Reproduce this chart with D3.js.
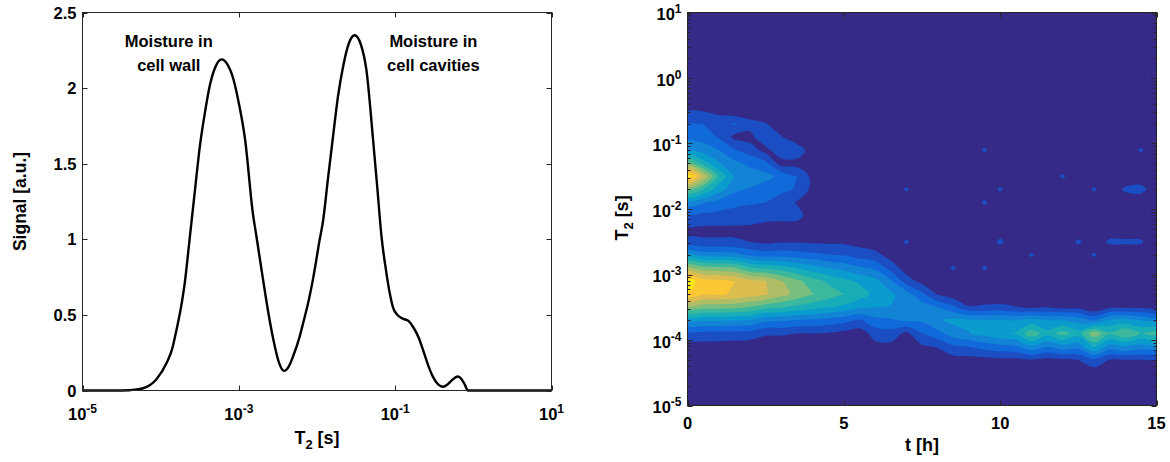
<!DOCTYPE html>
<html>
<head>
<meta charset="utf-8">
<script src="https://cdn.jsdelivr.net/npm/d3@7"></script>
<style>
  html, body { margin: 0; padding: 0; background: #ffffff; }
  svg { display: block; font-family: "Liberation Sans", Arial, Helvetica, sans-serif; font-weight: bold; }
</style>
</head>
<body>
<svg id="fig" width="1170" height="462"></svg>
<script>
// ---------- T2 distribution (left panel) ----------
const spectrumLogT2 = [-5.0, -4.6, -4.4, -4.3, -4.225, -4.14, -4.054, -3.926, -3.85, -3.798, -3.74, -3.692,
  -3.63, -3.56, -3.50, -3.43, -3.37, -3.30, -3.22, -3.15, -3.07, -3.0, -2.92, -2.82, -2.775, -2.71, -2.65,
  -2.56, -2.49, -2.42, -2.36, -2.307, -2.22, -2.18, -2.10, -2.05, -1.965, -1.923, -1.86, -1.795, -1.73,
  -1.667, -1.59, -1.518, -1.44, -1.368, -1.283, -1.23, -1.177, -1.113, -1.06, -1.028, -0.97, -0.90, -0.83,
  -0.77, -0.70, -0.645, -0.58, -0.516, -0.45, -0.39, -0.33, -0.28, -0.2, -0.15, -0.11, -0.07, 0.5, 1.0];
const spectrumSignal = [0, 0, 0.002, 0.008, 0.015, 0.035, 0.075, 0.18, 0.28, 0.40, 0.55, 0.71,
  1.0, 1.33, 1.61, 1.85, 2.02, 2.14, 2.19, 2.16, 2.06, 1.90, 1.66, 1.17, 1.02, 0.80, 0.60,
  0.34, 0.19, 0.13, 0.16, 0.225, 0.36, 0.44, 0.61, 0.74, 1.0, 1.12, 1.40, 1.68, 1.95,
  2.14, 2.30, 2.35, 2.29, 2.12, 1.66, 1.35, 1.03, 0.78, 0.62, 0.55, 0.50, 0.475, 0.46,
  0.42, 0.35, 0.27, 0.17, 0.09, 0.04, 0.025, 0.04, 0.065, 0.093, 0.075, 0.04, 0.0, 0, 0];
const spectrumXTicks = [1e-5, 1e-3, 1e-1, 1e1];
const spectrumYTicks = [0, 0.5, 1, 1.5, 2, 2.5];
const wallNote = ["Moisture in", "cell wall"];
const cavityNote = ["Moisture in", "cell cavities"];

// ---------- T2 map over drying time (right panel) ----------
const mapTimes = [0, 0.5, 1, 1.5, 2, 2.5, 3, 3.5, 4, 4.5, 5, 5.5, 6, 6.5, 7, 7.5, 8, 8.5, 9, 9.5,
  10, 10.5, 11, 11.5, 12, 12.5, 13, 13.5, 14, 14.5, 15];
const mapLogT2 = [-0.5, -0.7, -0.9, -1.1, -1.3, -1.5, -1.7, -1.9, -2.1, -2.3,
  -2.5, -2.7, -2.9, -3.1, -3.3, -3.5, -3.7, -3.9, -4.1, -4.3, -4.5];
// one T2 profile per time step, ordered as mapLogT2
const mapProfiles = [
  [0.19,0.41,0.54,0.75,1.50,2.30,1.50,0.72,0.37,0.16, 0.23,0.79,1.66,2.31,2.19,1.55,0.83,0.33,0.10,0.02,0],
  [0.19,0.40,0.52,0.70,1.10,1.80,1.20,0.62,0.35,0.16, 0.22,0.71,1.49,2.10,2.03,1.48,0.82,0.34,0.11,0.02,0],
  [0.12,0.36,0.38,0.60,0.82,1.15,0.90,0.52,0.34,0.16, 0.22,0.70,1.46,2.06,2.02,1.48,0.82,0.33,0.11,0.02,0],
  [0.05,0.42,0.15,0.42,0.65,0.80,0.65,0.45,0.32,0.16, 0.22,0.68,1.42,2.00,1.98,1.45,0.80,0.32,0.10,0.02,0],
  [0,0.30,0.12,0.30,0.55,0.70,0.58,0.42,0.30,0.16, 0.20,0.55,1.22,1.86,1.90,1.39,0.77,0.31,0.09,0.02,0],
  [0,0.22,0.40,0.12,0.45,0.66,0.50,0.40,0.28,0.12, 0.15,0.50,1.16,1.80,1.82,1.27,0.64,0.23,0.06,0.01,0],
  [0,0,0.22,0.38,0.10,0.55,0.45,0.30,0.28,0.10, 0.18,0.52,1.10,1.61,1.67,1.22,0.63,0.23,0.05,0.01,0],
  [0,0,0.02,0.36,0.12,0.40,0.38,0.18,0.28,0.08, 0.18,0.49,0.99,1.45,1.54,1.14,0.58,0.20,0.04,0,0],
  [0,0,0,0.05,0.08,0.14,0.14,0.05,0.08,0, 0.17,0.45,0.88,1.29,1.41,1.08,0.56,0.20,0.04,0,0],
  [0,0,0,0,0,0,0,0,0,0, 0.16,0.41,0.79,1.16,1.30,1.01,0.52,0.18,0.03,0,0],
  [0,0,0,0,0,0,0,0,0,0, 0.16,0.38,0.72,1.06,1.20,0.95,0.47,0.14,0.02,0,0],
  [0,0,0,0,0,0,0,0,0,0, 0.12,0.31,0.63,0.96,1.10,0.84,0.37,0.09,0.01,0,0],
  [0,0,0,0,0,0,0,0,0,0, 0.08,0.26,0.56,0.86,0.94,0.80,0.54,0.29,0.13,0.03,0],
  [0,0,0,0,0,0,0,0,0,0, 0.02,0.11,0.32,0.63,0.84,0.79,0.57,0.32,0.14,0.04,0],
  [0,0,0,0,0,0,0.24,0,0,0, 0.24,0.01,0.10,0.30,0.69,0.79,0.63,0.15,0.08,0.03,0],
  [0,0,0,0,0,0,0,0,0,0, 0,0,0.01,0.13,0.45,0.72,0.63,0.39,0.17,0.05,0],
  [0,0,0,0,0,0,0,0,0,0, 0,0,0,0.02,0.18,0.60,0.77,0.53,0.22,0.06,0.01],
  [0,0,0,0,0,0,0,0,0,0, 0,0,0.24,0,0.08,0.45,0.85,0.70,0.37,0.12,0.02],
  [0,0,0,0,0,0,0,0,0,0, 0,0,0,0,0.01,0.22,0.84,0.79,0.41,0.12,0.02],
  [0,0,0,0.24,0,0,0,0.24,0,0, 0,0,0.24,0,0.02,0.24,0.82,0.88,0.48,0.14,0.02],
  [0,0,0,0,0,0,0.24,0,0,0, 0.26,0,0,0,0.03,0.26,0.83,0.95,0.54,0.16,0.03],
  [0,0,0,0,0,0,0,0,0,0, 0,0,0,0,0.02,0.21,0.79,1.02,0.57,0.16,0.02],
  [0,0,0,0,0,0,0,0,0,0, 0,0.24,0,0,0.01,0.16,0.88,1.33,0.77,0.20,0.02],
  [0,0,0,0,0,0,0,0,0,0, 0,0,0,0,0.02,0.20,0.79,1.08,0.61,0.15,0.02],
  [0,0,0,0,0,0.24,0,0,0,0, 0,0,0,0,0.01,0.14,0.81,1.29,0.72,0.17,0.01],
  [0,0,0,0,0,0,0,0,0,0, 0.25,0,0,0,0.01,0.15,0.72,1.09,0.68,0.20,0.02],
  [0,0,0,0,0,0,0.24,0,0,0, 0,0.24,0,0,0,0.02,0.58,1.54,1.04,0.37,0.07],
  [0,0,0,0,0,0,0,0,0,0, 0.25,0,0,0,0.01,0.16,0.83,1.23,0.72,0.20,0.02],
  [0,0,0,0,0,0,0.25,0,0,0, 0.25,0,0,0,0,0.16,0.88,1.39,0.80,0.20,0.02],
  [0,0,0,0.24,0,0,0.30,0,0,0, 0.24,0,0,0,0,0.16,0.79,1.19,0.72,0.20,0.02],
  [0,0,0,0,0,0,0,0,0,0, 0,0,0,0,0,0.06,0.68,1.29,0.72,0.17,0.01]
];
const mapLevels = [0.2, 0.4, 0.6, 0.8, 1.0, 1.2, 1.4, 1.6, 1.8, 2.0, 2.2];
const mapXTicks = [0, 5, 10, 15];
const mapYTicks = [1e-5, 1e-4, 1e-3, 1e-2, 1e-1, 1e0, 1e1];

// parula colour map anchors
const parula = ["#352a87", "#0f5cdd", "#1481d6", "#06a4ca", "#2eb7a4", "#87bf77", "#d1bb59", "#fec832", "#f9fb0e"];

const svg = d3.select("#fig");
const AXIS = "#262626";
const TICK_FS = 16.5, LABEL_FS = 18;

function expText(sel, v) {
  const e = Math.round(Math.log10(v));
  sel.append("tspan").text("10");
  sel.append("tspan").attr("dy", -7).attr("font-size", 12).text(String(e));
}

// ================= left panel =================
const L = { x0: 82.5, x1: 551.5, y0: 12.5, y1: 390.5 };
const xL = d3.scaleLog().domain([1e-5, 10]).range([L.x0, L.x1]);
const yL = d3.scaleLinear().domain([0, 2.5]).range([L.y1, L.y0]);
const gL = svg.append("g");

const spectrum = spectrumLogT2.map((lg, i) => [Math.pow(10, lg), spectrumSignal[i]]);
gL.append("path")
  .datum(spectrum)
  .attr("d", d3.line().x(d => xL(d[0])).y(d => yL(d[1])).curve(d3.curveMonotoneX))
  .attr("fill", "none").attr("stroke", "#000").attr("stroke-width", 2.4)
  .attr("stroke-linejoin", "round");

gL.append("rect").attr("x", L.x0).attr("y", L.y0).attr("width", L.x1 - L.x0).attr("height", L.y1 - L.y0)
  .attr("fill", "none").attr("stroke", AXIS).attr("stroke-width", 1);

spectrumXTicks.forEach(v => {
  const x = Math.round(xL(v)) + 0.5;
  gL.append("line").attr("x1", x).attr("x2", x).attr("y1", L.y1).attr("y2", L.y1 - 5).attr("stroke", AXIS);
  gL.append("line").attr("x1", x).attr("x2", x).attr("y1", L.y0).attr("y2", L.y0 + 5).attr("stroke", AXIS);
  const t = gL.append("text").attr("x", xL(v)).attr("y", 420).attr("text-anchor", "middle")
    .attr("font-size", TICK_FS).attr("fill", "#000");
  expText(t, v);
});
spectrumYTicks.forEach(v => {
  const y = Math.round(yL(v)) + 0.5;
  gL.append("line").attr("x1", L.x0).attr("x2", L.x0 + 5).attr("y1", y).attr("y2", y).attr("stroke", AXIS);
  gL.append("line").attr("x1", L.x1).attr("x2", L.x1 - 5).attr("y1", y).attr("y2", y).attr("stroke", AXIS);
  gL.append("text").attr("x", L.x0 - 6).attr("y", yL(v) + 6).attr("text-anchor", "end")
    .attr("font-size", TICK_FS).attr("fill", "#000").text(String(v));
});

// axis titles
const xtL = gL.append("text").attr("x", (L.x0 + L.x1) / 2).attr("y", 443.5)
  .attr("text-anchor", "middle").attr("font-size", LABEL_FS).attr("fill", "#000");
xtL.append("tspan").text("T");
xtL.append("tspan").attr("font-size", 13).attr("dy", 5).text("2");
xtL.append("tspan").attr("dy", -5).text(" [s]");
gL.append("text").attr("transform", `translate(26,${(L.y0 + L.y1) / 2}) rotate(-90)`)
  .attr("text-anchor", "middle").attr("font-size", 17.5).attr("fill", "#000").text("Signal [a.u.]");

// peak annotations
function note(lines, lg, s) {
  const t = gL.append("text").attr("text-anchor", "middle").attr("font-size", TICK_FS).attr("fill", "#000");
  lines.forEach((ln, i) => t.append("tspan").attr("x", xL(Math.pow(10, lg))).attr("y", yL(s) + i * 24).text(ln));
}
note(wallNote, -3.896, 2.273);
note(cavityNote, -0.511, 2.273);

// ================= right panel =================
const R = { x0: 687.5, x1: 1156.5, y0: 12.5, y1: 405.5 };
const xR = d3.scaleLinear().domain([0, 15]).range([R.x0, R.x1]);
const yR = d3.scaleLog().domain([1e-5, 10]).range([R.y1, R.y0]);
const gR = svg.append("g");

svg.append("defs").append("clipPath").attr("id", "mapClip")
  .append("rect").attr("x", R.x0).attr("y", R.y0).attr("width", R.x1 - R.x0).attr("height", R.y1 - R.y0);

const nx = mapTimes.length, ny = mapLogT2.length;
const grid = new Array(nx * ny);
mapProfiles.forEach((col, i) => col.forEach((v, j) => { grid[j * nx + i] = v; }));

// grid sample (i, j) sits at (i + 0.5, j + 0.5) in contour space
const tOf = d3.scaleLinear().domain([0.5, nx - 0.5]).range([mapTimes[0], mapTimes[nx - 1]]);
const lgOf = d3.scaleLinear().domain([0.5, ny - 0.5]).range([mapLogT2[0], mapLogT2[ny - 1]]);
const toScreen = ([gx, gy]) => [xR(tOf(gx)), yR(Math.pow(10, lgOf(gy)))];
const ringLine = d3.line().curve(d3.curveCatmullRomClosed.alpha(0.5));
function bandPath(mp) {
  return mp.coordinates.map(poly => poly
    .filter(ring => ring.length > 3)
    .map(ring => ringLine(ring.slice(0, -1).map(toScreen)))
    .join("")).join("");
}
const vmax = d3.max(grid);
const color = d3.scaleSequential(d3.piecewise(d3.interpolateRgb, parula)).domain([0, vmax]);

const gMap = gR.append("g").attr("clip-path", "url(#mapClip)");
gMap.append("rect").attr("x", R.x0).attr("y", R.y0).attr("width", R.x1 - R.x0).attr("height", R.y1 - R.y0)
  .attr("fill", color(0));
const bands = d3.contours().size([nx, ny]).thresholds(mapLevels)(grid);
gMap.selectAll("path.band").data(bands).join("path").attr("class", "band")
  .attr("d", bandPath).attr("fill", d => color(d.value)).attr("fill-rule", "evenodd");

gR.append("rect").attr("x", R.x0).attr("y", R.y0).attr("width", R.x1 - R.x0).attr("height", R.y1 - R.y0)
  .attr("fill", "none").attr("stroke", AXIS).attr("stroke-width", 1);

mapXTicks.forEach(v => {
  const x = Math.round(xR(v)) + 0.5;
  gR.append("line").attr("x1", x).attr("x2", x).attr("y1", R.y1).attr("y2", R.y1 - 5).attr("stroke", AXIS);
  gR.append("line").attr("x1", x).attr("x2", x).attr("y1", R.y0).attr("y2", R.y0 + 5).attr("stroke", AXIS);
  gR.append("text").attr("x", xR(v)).attr("y", 429).attr("text-anchor", "middle")
    .attr("font-size", TICK_FS).attr("fill", "#000").text(String(v));
});
mapYTicks.forEach((v, k) => {
  const y = Math.round(yR(v)) + 0.5;
  gR.append("line").attr("x1", R.x0).attr("x2", R.x0 + 5).attr("y1", y).attr("y2", y).attr("stroke", AXIS);
  gR.append("line").attr("x1", R.x1).attr("x2", R.x1 - 5).attr("y1", y).attr("y2", y).attr("stroke", AXIS);
  const t = gR.append("text").attr("x", R.x0 - 6).attr("y", yR(v) + 7.5).attr("text-anchor", "end")
    .attr("font-size", TICK_FS).attr("fill", "#000");
  expText(t, v);
  if (k < mapYTicks.length - 1) {
    for (let m = 2; m <= 9; m++) {
      const ym = Math.round(yR(v * m)) + 0.5;
      gR.append("line").attr("x1", R.x0).attr("x2", R.x0 + 3).attr("y1", ym).attr("y2", ym).attr("stroke", AXIS);
      gR.append("line").attr("x1", R.x1).attr("x2", R.x1 - 3).attr("y1", ym).attr("y2", ym).attr("stroke", AXIS);
    }
  }
});

const ytR = gR.append("text").attr("transform", "translate(628,218) rotate(-90)")
  .attr("text-anchor", "middle").attr("font-size", LABEL_FS).attr("fill", "#000");
ytR.append("tspan").text("T");
ytR.append("tspan").attr("font-size", 13).attr("dy", 5).text("2");
ytR.append("tspan").attr("dy", -5).text(" [s]");
gR.append("text").attr("x", (R.x0 + R.x1) / 2).attr("y", 451).attr("text-anchor", "middle")
  .attr("font-size", LABEL_FS).attr("fill", "#000").text("t [h]");
</script>
</body>
</html>
